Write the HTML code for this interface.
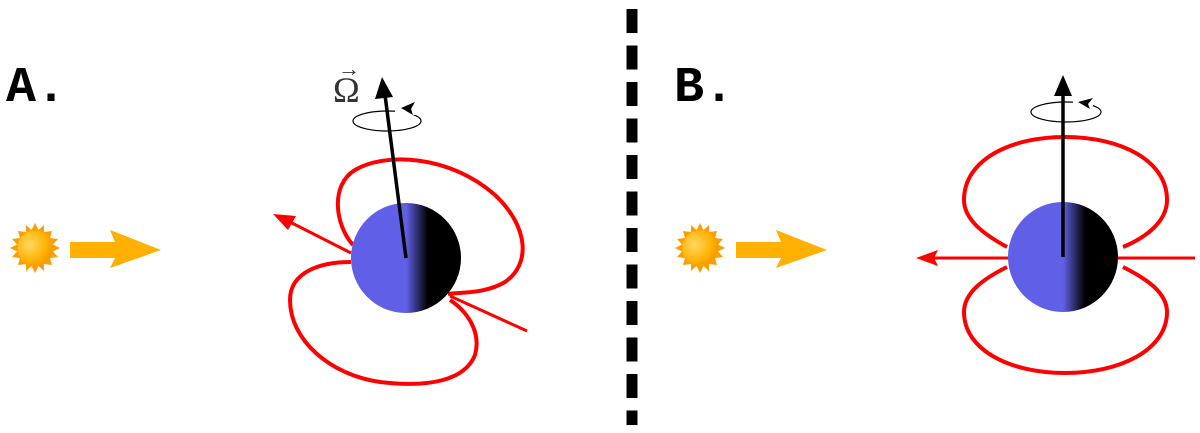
<!DOCTYPE html>
<html><head><meta charset="utf-8"><style>body{margin:0;background:#fff}svg{display:block}
.lbl{font-family:"Liberation Mono","DejaVu Sans Mono",monospace;font-weight:bold;font-size:50px}
.om{font-family:"Liberation Serif","DejaVu Serif",serif;font-size:36px;fill:#333}
</style></head>
<body>
<svg width="1200" height="433" viewBox="0 0 1200 433" xmlns="http://www.w3.org/2000/svg">
<defs>
<linearGradient id="sg" x1="0" x2="1" y1="0" y2="0">
<stop offset="0" stop-color="#6060e6"/><stop offset="0.5" stop-color="#6060e6"/><stop offset="0.7" stop-color="#000"/><stop offset="1" stop-color="#000"/>
</linearGradient>
<radialGradient id="sun" cx="0.35" cy="0.4" r="0.7">
<stop offset="0" stop-color="#ffd860"/><stop offset="0.7" stop-color="#ffb000"/><stop offset="1" stop-color="#f59000"/>
</radialGradient>
<g id="sunicon">
<polygon fill="#ff9d00" points="0,-25 3.5,-18 9,-23 9,-16 17,-17 15,-10 23,-9 18,-3.5 25,0 18,3.5 23,9 15,10 17,17 9,16 9,23 3.5,18 0,25 -3.5,18 -9,23 -9,16 -17,17 -15,10 -23,9 -18,3.5 -25,0 -18,-3.5 -23,-9 -15,-10 -17,-17 -9,-16 -9,-23 -3.5,-18"/>
<circle r="18" fill="url(#sun)" stroke="#f7a600" stroke-width="1"/>
</g>
<g id="bigarrow"><polygon fill="#ffb000" points="0,-8 45,-8 40,-20 91,0 40,18 45,8 0,8"/></g>
</defs>

<text x="6" y="101" class="lbl">A.</text>
<text x="674" y="101" class="lbl">B.</text>

<line x1="632" y1="9" x2="632" y2="425" stroke="#000" stroke-width="11" stroke-dasharray="24,12.5"/>

<use href="#sunicon" x="35" y="248"/>
<use href="#bigarrow" x="70" y="250"/>
<use href="#sunicon" x="700" y="248"/>
<use href="#bigarrow" x="736" y="250"/>

<!-- Panel A -->
<g fill="none" stroke="#f00" stroke-width="4">
<path d="M353,245 C335,225 330,185 355,170 C385,152 450,155 495,195 C530,228 530,265 505,282 C485,294 460,292 448,294"/>
<path d="M351,262 C320,262 290,272 290,300 C290,340 330,375 380,382 C430,388 465,380 475,355 C482,330 465,310 450,300"/>
</g>
<line x1="351" y1="253" x2="290" y2="222" stroke="#f00" stroke-width="3"/>
<polygon fill="#f00" points="273,214 296,216 288,230"/>
<line x1="450" y1="296" x2="527" y2="331" stroke="#f00" stroke-width="3"/>
<circle cx="406" cy="258" r="55" fill="url(#sg)"/>
<ellipse cx="387" cy="121" rx="34" ry="10" fill="none" stroke="#000" stroke-width="1.2"/>
<polygon fill="#fff" points="395,105 415,105 415,115 395,115"/>
<polygon fill="#000" points="401,108 415,102 411,109 413,115"/>
<line x1="406" y1="258" x2="385" y2="95" stroke="#000" stroke-width="3.5"/>
<polygon fill="#000" points="382,77 375,99 393,97"/>
<text x="333" y="102" class="om">Ω</text>
<text x="338" y="76" class="om" style="font-size:22px">→</text>

<!-- Panel B -->
<g fill="none" stroke="#f00" stroke-width="4">
<path d="M1007,247 C985,235 964,220 964,200 C964,160 1010,137 1065,137 C1120,137 1167,160 1167,200 C1167,222 1145,238 1123,247"/>
<path d="M1007,267 C985,278 964,292 964,312 C964,350 1010,373 1065,373 C1120,373 1167,350 1167,312 C1167,292 1145,278 1123,267"/>
</g>
<line x1="930" y1="258" x2="1195" y2="258" stroke="#f00" stroke-width="3"/>
<polygon fill="#f00" points="916,258 938,250 934,258 938,266"/>
<circle cx="1063" cy="257" r="55" fill="url(#sg)"/>
<ellipse cx="1066" cy="112" rx="35" ry="10" fill="none" stroke="#000" stroke-width="1.2"/>
<polygon fill="#fff" points="1073,97 1093,97 1093,106 1073,106"/>
<polygon fill="#000" points="1078,102 1093,98 1088,104 1090,109"/>
<line x1="1063" y1="257" x2="1063" y2="92" stroke="#000" stroke-width="3.5"/>
<polygon fill="#000" points="1063,75 1054,96 1072,96"/>
</svg>
</body></html>
